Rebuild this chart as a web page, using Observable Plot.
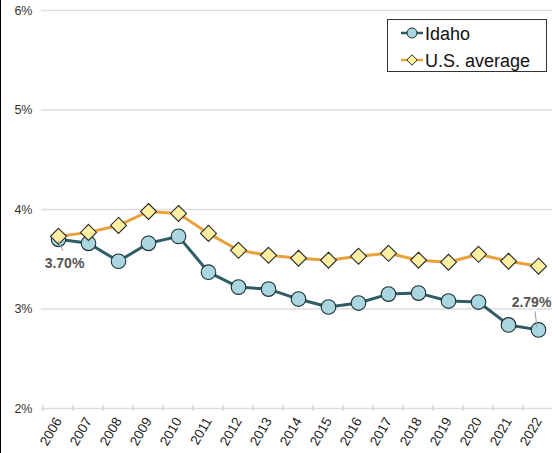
<!DOCTYPE html>
<html>
<head>
<meta charset="utf-8">
<script src="https://cdn.jsdelivr.net/npm/d3@7"></script>
<script src="https://cdn.jsdelivr.net/npm/@observablehq/plot@0.6"></script>
<style>
  html, body { margin: 0; padding: 0; background: #fff; }
  #wrap { position: relative; width: 552px; height: 453px; overflow: hidden; font-family: "Liberation Sans", Arial, sans-serif; }
  #leftbar { position: absolute; left: 0; top: 0; width: 1px; height: 453px; background: #000; }
  #legend { position: absolute; left: 387px; top: 19px; }
</style>
</head>
<body>
<div id="wrap"><div id="leftbar"></div></div>
<script>
const years = [2006, 2007, 2008, 2009, 2010, 2011, 2012, 2013, 2014, 2015, 2016, 2017, 2018, 2019, 2020, 2021, 2022];
const idaho = [3.70, 3.66, 3.48, 3.66, 3.73, 3.37, 3.22, 3.20, 3.10, 3.02, 3.06, 3.15, 3.16, 3.08, 3.07, 2.84, 2.79];
const usAvg = [3.73, 3.77, 3.84, 3.98, 3.96, 3.76, 3.59, 3.54, 3.51, 3.49, 3.53, 3.56, 3.49, 3.47, 3.55, 3.48, 3.43];
const yTicks = [2, 3, 4, 5, 6];
const seriesNames = ["Idaho", "U.S. average"];
const annotations = [
  {year: 2006, value: 3.70, label: "3.70%", dx: 6, dy: 24, lx1: 0, ly1: 2, lx2: 5, ly2: 12},
  {year: 2022, value: 2.79, label: "2.79%", dx: -7, dy: -27, lx1: -1, ly1: -2, lx2: -3, ly2: -18}
];

const idahoData = years.map((y, i) => ({year: y, value: idaho[i]}));
const usData = years.map((y, i) => ({year: y, value: usAvg[i]}));

const idahoLine = "#2f5d66";
const idahoFill = "#a9d6df";
const usLine = "#e9a23b";
const usFill = "#fdf0a3";

function bandTicks(index, scales) {
  const g = d3.create("svg:g");
  const x = scales.x;
  const bw = x.bandwidth ? x.bandwidth() : 30;
  const y0 = scales.y(2);
  const pos = years.map(y => x(y));
  pos.push(x(years[years.length - 1]) + bw);
  for (const px of pos) {
    g.append("line").attr("x1", px).attr("x2", px).attr("y1", y0 - 3).attr("y2", y0 + 3)
      .attr("stroke", "#d6d6d6").attr("stroke-width", 1.5);
  }
  return g.node();
}

function leaders(index, scales) {
  const g = d3.create("svg:g");
  const x = scales.x;
  const bw = x.bandwidth ? x.bandwidth() : 0;
  for (const a of annotations) {
    const px = x(a.year) + bw / 2;
    const py = scales.y(a.value);
    g.append("line").attr("x1", px + a.lx1).attr("y1", py + a.ly1).attr("x2", px + a.lx2).attr("y2", py + a.ly2)
      .attr("stroke", "#9a9a9a").attr("stroke-width", 1);
  }
  return g.node();
}

const chart = Plot.plot({
  width: 552,
  height: 453,
  marginLeft: 41,
  marginRight: -2,
  marginTop: 10,
  marginBottom: 45,
  style: {fontFamily: "'Liberation Sans', Arial, sans-serif", background: "transparent", overflow: "visible"},
  x: {type: "band", domain: years, padding: 0, align: 0.5, label: null},
  y: {domain: [2, 6], label: null},
  marks: [
    Plot.gridY(yTicks, {stroke: "#dddddd", strokeOpacity: 1, strokeWidth: 1.5}),
    bandTicks,
    Plot.axisY(yTicks, {tickSize: 0, tickPadding: 9, tickFormat: d => d + "%", fontSize: 12.5, fill: "#333", label: null}),
    Plot.axisX(years, {tickSize: 0, tickPadding: 10, tickRotate: -60, fontSize: 13.5, fill: "#222", tickFormat: d => String(d), label: null}),
    Plot.line(idahoData, {x: "year", y: "value", stroke: idahoLine, strokeWidth: 3}),
    Plot.dot(idahoData, {x: "year", y: "value", r: 7.3, fill: idahoFill, stroke: "#1d3034", strokeWidth: 1.1, symbol: "circle"}),
    Plot.line(usData, {x: "year", y: "value", stroke: usLine, strokeWidth: 3}),
    Plot.dot(usData, {x: "year", y: "value", r: 7.2, fill: usFill, stroke: "#2a2a2a", strokeWidth: 1.1, symbol: "diamond2"}),
    leaders,
    Plot.text(annotations, {x: "year", y: "value", text: "label", fontSize: 14, fontWeight: "bold", fill: "#555", textAnchor: "middle"})
  ]
});

document.getElementById("wrap").appendChild(chart);
{
  const texts = chart.querySelectorAll("g[aria-label='text'] text");
  texts.forEach((t, i) => {
    const a = annotations[i];
    t.setAttribute("dx", a.dx);
    t.setAttribute("dy", a.dy);
  });
}

// legend
const legend = d3.create("svg").attr("id", "legend").attr("width", 161).attr("height", 54)
  .style("font-family", "'Liberation Sans', Arial, sans-serif");
legend.append("rect").attr("x", 0.5).attr("y", 0.5).attr("width", 159).attr("height", 52)
  .attr("fill", "#fff").attr("stroke", "#333").attr("stroke-width", 1);
const rows = [
  {name: seriesNames[0], line: idahoLine, fill: idahoFill, stroke: "#1d3034", sym: d3.symbolCircle, size: Math.PI * 25},
  {name: seriesNames[1], line: usLine, fill: usFill, stroke: "#2a2a2a", sym: d3.symbolDiamond2, size: Math.PI * 22}
];
rows.forEach((r, i) => {
  const cy = 14 + i * 27;
  legend.append("line").attr("x1", 14).attr("x2", 36).attr("y1", cy).attr("y2", cy)
    .attr("stroke", r.line).attr("stroke-width", 2.5);
  legend.append("path").attr("d", d3.symbol(r.sym, r.size)()).attr("transform", `translate(25,${cy})`)
    .attr("fill", r.fill).attr("stroke", r.stroke).attr("stroke-width", 1);
  legend.append("text").attr("x", 38).attr("y", cy + 6.5).attr("font-size", 18).attr("fill", "#111").text(r.name);
});
document.getElementById("wrap").appendChild(legend.node());
</script>
</body>
</html>
